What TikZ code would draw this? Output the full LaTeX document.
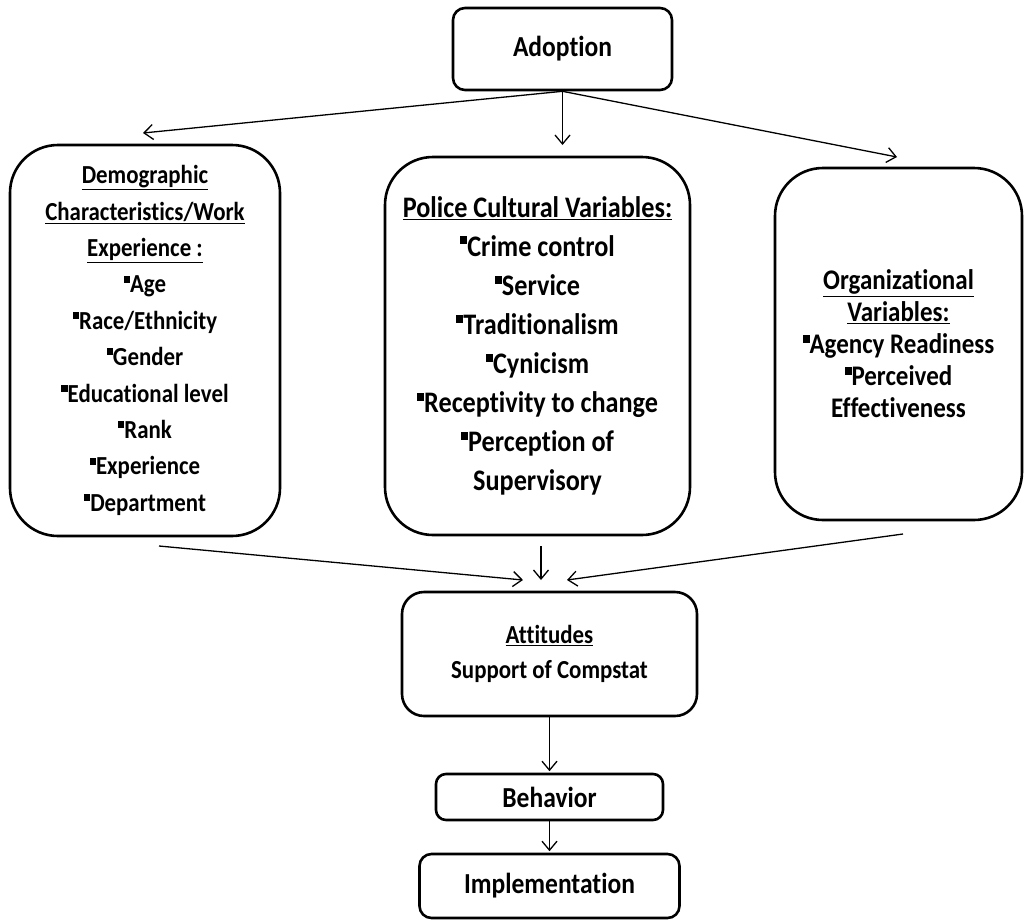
\documentclass[tikz,border=0pt]{standalone}
\usepackage{fontspec}
\setmainfont{Carlito}[FakeStretch=0.88, Ligatures=NoCommon]
\usetikzlibrary{arrows.meta}

\tikzset{
    box/.style={draw, line width=2.6pt, align=center, inner sep=0pt},
    listfont/.style 2 args={font=\fontsize{#1}{#2}\selectfont\bfseries},
    titlefont/.style={font=\fontsize{29}{32}\selectfont\bfseries},
    arr/.style={-{Straight Barb[length=9pt,width=15pt,line width=1.3pt]}, line width=1.3pt}
}
\newcommand\sqbul{\raisebox{0.4em}{\rule{0.24em}{0.27em}}}

\begin{document}
\begin{tikzpicture}[x=1pt,y=-1pt]
    \useasboundingbox (0,0) rectangle (1026,922);
    \path (562.5,49) node [box, rounded corners=12pt, minimum width=219pt, minimum height=82pt, titlefont] (adopt) {Adoption};
    \path (145,340.5) node [box, rounded corners=48pt, minimum width=270pt, minimum height=391pt, listfont={26}{36.4}] (demo) {\underline{Demographic}\\ \underline{Characteristics/Work}\\ \underline{Experience :}\\ \sqbul Age\\ \sqbul Race/Ethnicity\\ \sqbul Gender\\ \sqbul Educational level\\ \sqbul Rank\\ \sqbul Experience\\ \sqbul Department};
    \path (537.5,346) node [box, rounded corners=48pt, minimum width=305pt, minimum height=378pt, listfont={29.8}{39.1}] (police) {\underline{Police Cultural Variables:}\\ \sqbul Crime control\\ \sqbul Service\\ \sqbul Traditionalism\\ \sqbul Cynicism\\ \sqbul Receptivity to change\\ \sqbul Perception of\\ Supervisory};
    \path (898.5,344) node [box, rounded corners=48pt, minimum width=247pt, minimum height=352pt, listfont={28.4}{32}] (org) {\underline{Organizational}\\ \underline{Variables:}\\ \sqbul Agency Readiness\\ \sqbul Perceived\\ Effectiveness};
    \path (549.5,654) node [box, rounded corners=22pt, minimum width=295pt, minimum height=124pt, listfont={26}{35}] (att) {\underline{Attitudes}\\ Support of Compstat};
    \path (549.5,797) node [box, rounded corners=10pt, minimum width=227pt, minimum height=46pt, titlefont] (behav) {Behavior};
    \path (549.5,886) node [box, rounded corners=12pt, minimum width=260pt, minimum height=64pt, titlefont] (impl) {Implementation};
    % arrow ends beside the boxes
    \coordinate (demoin) at (143,133);
    \coordinate (policein) at (562.5,145);
    \coordinate (orgin) at (897,157);
    \coordinate (demoout) at (159,546);
    \coordinate (policeout) at (541,546);
    \coordinate (orgout) at (903,534);
    \coordinate (attinl) at (523,580);
    \coordinate (attinm) at (541,580);
    \coordinate (attinr) at (567,580);
    \draw [arr] (adopt.south) -- (demoin);
    \draw [arr] (adopt.south) -- (policein);
    \draw [arr] (adopt.south) -- (orgin);
    \draw [arr] (demoout) -- (attinl);
    \draw [arr] (policeout) -- (attinm);
    \draw [arr] (orgout) -- (attinr);
    \draw [arr, shorten >=1.5pt] (att.south) -- (behav.north);
    \draw [arr, shorten >=1.5pt] (behav.south) -- (impl.north);
\end{tikzpicture}
\end{document}
